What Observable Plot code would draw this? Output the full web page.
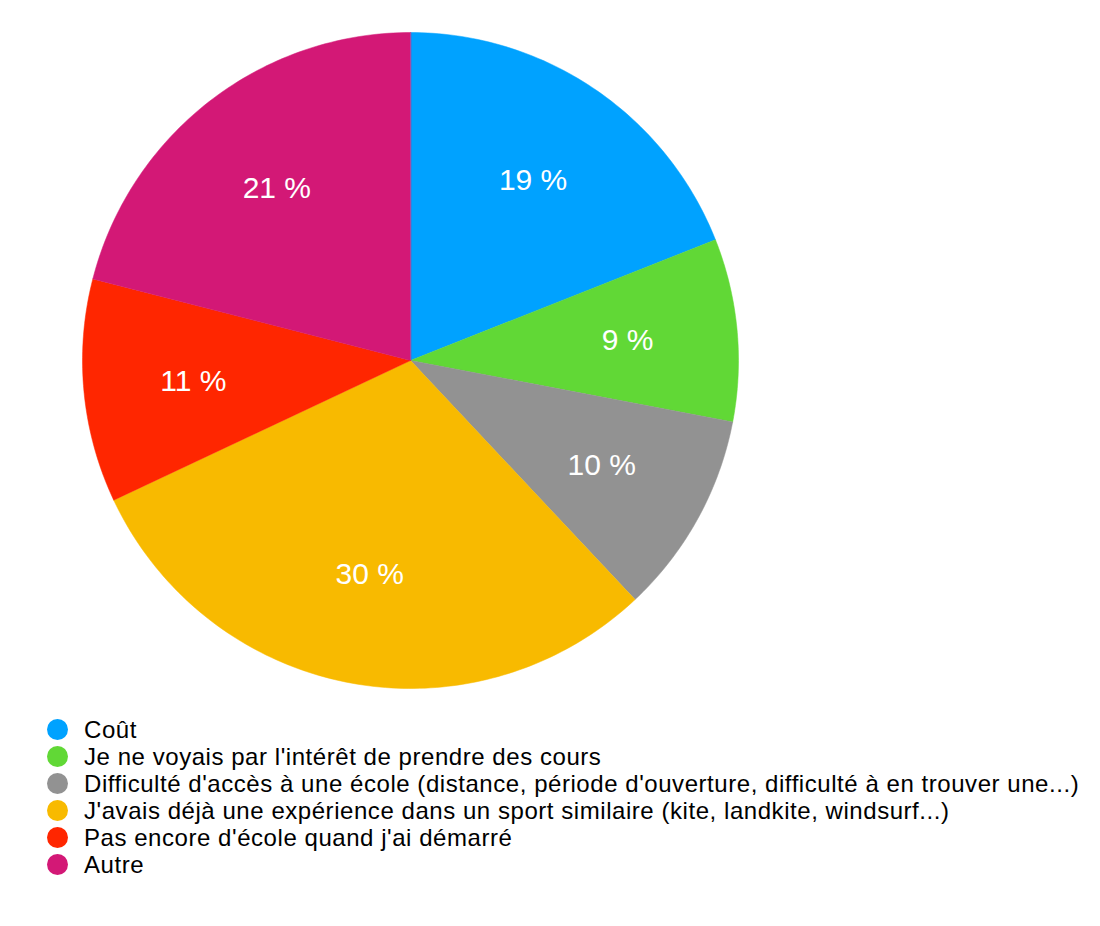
<!DOCTYPE html>
<html>
<head>
<meta charset="utf-8">
<script src="https://cdn.jsdelivr.net/npm/d3@7"></script>
<script src="https://cdn.jsdelivr.net/npm/@observablehq/plot@0.6"></script>
<style>
  html, body { margin: 0; padding: 0; background: #fff; }
  body { width: 1100px; height: 926px; overflow: hidden; font-family: "Liberation Sans", Arial, Helvetica, sans-serif; }
  #legend { margin-top: 0px; }
  .row { height: 27px; line-height: 27px; font-size: 24px; letter-spacing: 0.55px; color: #000; white-space: nowrap; display: flex; align-items: center; }
  .sw { display: inline-block; width: 21px; height: 21px; border-radius: 50%; margin-left: 47px; margin-right: 16px; flex: none; }
</style>
</head>
<body>
<div id="chart"></div>
<div id="legend"></div>
<script>
const categories = [
  "Coût",
  "Je ne voyais par l'intérêt de prendre des cours",
  "Difficulté d'accès à une école (distance, période d'ouverture, difficulté à en trouver une...)",
  "J'avais déjà une expérience dans un sport similaire (kite, landkite, windsurf...)",
  "Pas encore d'école quand j'ai démarré",
  "Autre"
];
const values = [19, 9, 10, 30, 11, 21];
const labels = ["19 %", "9 %", "10 %", "30 %", "11 %", "21 %"];
const colors = ["#00A2FF", "#61D836", "#929292", "#F8BA00", "#FF2600", "#D31876"];

// pie geometry from data
const arcs = d3.pie().sort(null).value(d => d)(values);
const slicePts = [];
const labelPts = [];
arcs.forEach((a, i) => {
  const n = Math.max(2, Math.ceil((a.endAngle - a.startAngle) / (Math.PI / 180)));
  slicePts.push({cat: categories[i], x: 0, y: 0});
  for (let k = 0; k <= n; k++) {
    const t = a.startAngle + (a.endAngle - a.startAngle) * k / n;
    slicePts.push({cat: categories[i], x: Math.sin(t), y: Math.cos(t)});
  }
  const m = (a.startAngle + a.endAngle) / 2;
  labelPts.push({cat: categories[i], label: labels[i], x: 0.665 * Math.sin(m), y: 0.665 * Math.cos(m)});
});

const chart = Plot.plot({
  width: 1100,
  height: 716,
  margin: 0,
  x: {domain: [-1, 1], range: [82, 738], axis: null},
  y: {domain: [-1, 1], range: [688, 32], axis: null},
  color: {domain: categories, range: colors},
  style: {background: "#fff", fontFamily: "'Liberation Sans', Arial, Helvetica, sans-serif"},
  marks: [
    Plot.line(slicePts, {x: "x", y: "y", z: "cat", fill: "cat", stroke: "cat", strokeWidth: 0.5, curve: "linear-closed"}),
    Plot.text(labelPts, {x: "x", y: "y", text: "label", fill: "white", fontSize: 30})
  ]
});
document.getElementById("chart").appendChild(chart);

const legend = document.getElementById("legend");
categories.forEach((c, i) => {
  const row = document.createElement("div");
  row.className = "row";
  const sw = document.createElement("span");
  sw.className = "sw";
  sw.style.background = colors[i];
  const tx = document.createElement("span");
  tx.textContent = c;
  row.appendChild(sw);
  row.appendChild(tx);
  legend.appendChild(row);
});
</script>
</body>
</html>
